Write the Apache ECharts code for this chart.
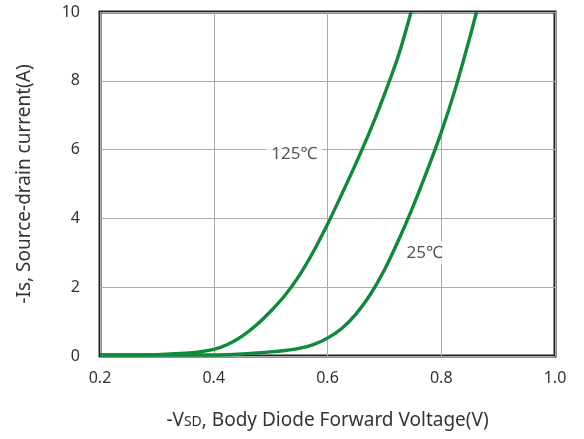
<!DOCTYPE html>
<html>
<head>
<meta charset="utf-8">
<script src="https://cdn.jsdelivr.net/npm/echarts@6/dist/echarts.min.js"></script>
<style>html,body{margin:0;padding:0;background:#fff;}#c{width:584px;height:439px;}</style>
</head>
<body>
<div id="c"></div>
<script>
const xTicks = [0.2, 0.4, 0.6, 0.8, 1.0];
const yTicks = [0, 2, 4, 6, 8, 10];
const v125 = [0.2, 0.25, 0.3, 0.35, 0.375, 0.4, 0.425, 0.45, 0.475, 0.5, 0.525, 0.55, 0.575, 0.6, 0.625, 0.65, 0.675, 0.7, 0.725, 0.747];
const i125 = [0.03, 0.03, 0.04, 0.08, 0.12, 0.19, 0.34, 0.58, 0.9, 1.3, 1.76, 2.33, 3.03, 3.83, 4.7, 5.6, 6.55, 7.6, 8.75, 10.0];
const v25 = [0.2, 0.3, 0.4, 0.45, 0.5, 0.525, 0.55, 0.575, 0.6, 0.625, 0.65, 0.675, 0.7, 0.725, 0.75, 0.775, 0.8, 0.825, 0.85, 0.862];
const i25 = [0.03, 0.03, 0.03, 0.06, 0.12, 0.16, 0.22, 0.33, 0.52, 0.8, 1.22, 1.78, 2.5, 3.37, 4.33, 5.38, 6.5, 7.78, 9.25, 10.0];
const seriesNames = ['125℃', '25℃'];
const labelAnchors = [[0.5416, 5.86], [0.771, 3.0]];

const FONT = '"Noto Sans", "Open Sans", "Noto Sans CJK SC", sans-serif';
const GREEN = '#0f8a3c';
const chart = echarts.init(document.getElementById('c'), null, {renderer: 'canvas'});
function pairs(xs, ys) { return xs.map((x, i) => [x, ys[i]]); }
function curve(i, xs, ys) {
  return {type: 'line', name: seriesNames[i], data: pairs(xs, ys), smooth: 0.3,
    symbol: 'none', lineStyle: {color: GREEN, width: 3.4}, z: 2};
}
function tag(i) {
  return {type: 'scatter', data: [labelAnchors[i]], symbolSize: 1, z: 5,
    itemStyle: {color: 'rgba(0,0,0,0)'}, silent: true,
    label: {show: true, position: 'inside', formatter: seriesNames[i],
      color: '#2a2a2a', fontSize: 17, fontFamily: FONT,
      backgroundColor: '#fff', padding: [3, 5, 3, 5]}};
}
chart.setOption({
  animation: false,
  grid: {left: 100, right: 29, top: 12, bottom: 83, show: true, borderColor: '#222', borderWidth: 3, backgroundColor: '#fff'},
  xAxis: {
    type: 'value', min: 0.2, max: 1.0, interval: 0.2,
    axisLine: {show: false}, axisTick: {show: false},
    splitLine: {show: true, lineStyle: {color: '#aaa', width: 1}},
    axisLabel: {color: '#333', fontSize: 16, fontFamily: FONT, margin: 14, formatter: v => v.toFixed(1)},
    name: '{a|-V}{b|SD}{a|, Body Diode Forward Voltage(V)}',
    nameLocation: 'middle', nameGap: 55,
    nameTextStyle: {rich: {a: {fontSize: 19, color: '#333', fontFamily: FONT}, b: {fontSize: 14, color: '#333', fontFamily: FONT, padding: [3, 0, 0, 0]}}}
  },
  yAxis: {
    type: 'value', min: 0, max: 10, interval: 2,
    axisLine: {show: false}, axisTick: {show: false},
    splitLine: {show: true, lineStyle: {color: '#aaa', width: 1}},
    axisLabel: {color: '#333', fontSize: 16, fontFamily: FONT, margin: 20},
    name: '-Is, Source-drain current(A)',
    nameLocation: 'middle', nameGap: 66,
    nameTextStyle: {fontSize: 19, color: '#333', fontFamily: FONT}
  },
  series: [curve(0, v125, i125), curve(1, v25, i25), tag(0), tag(1)]
});
</script>
</body>
</html>
